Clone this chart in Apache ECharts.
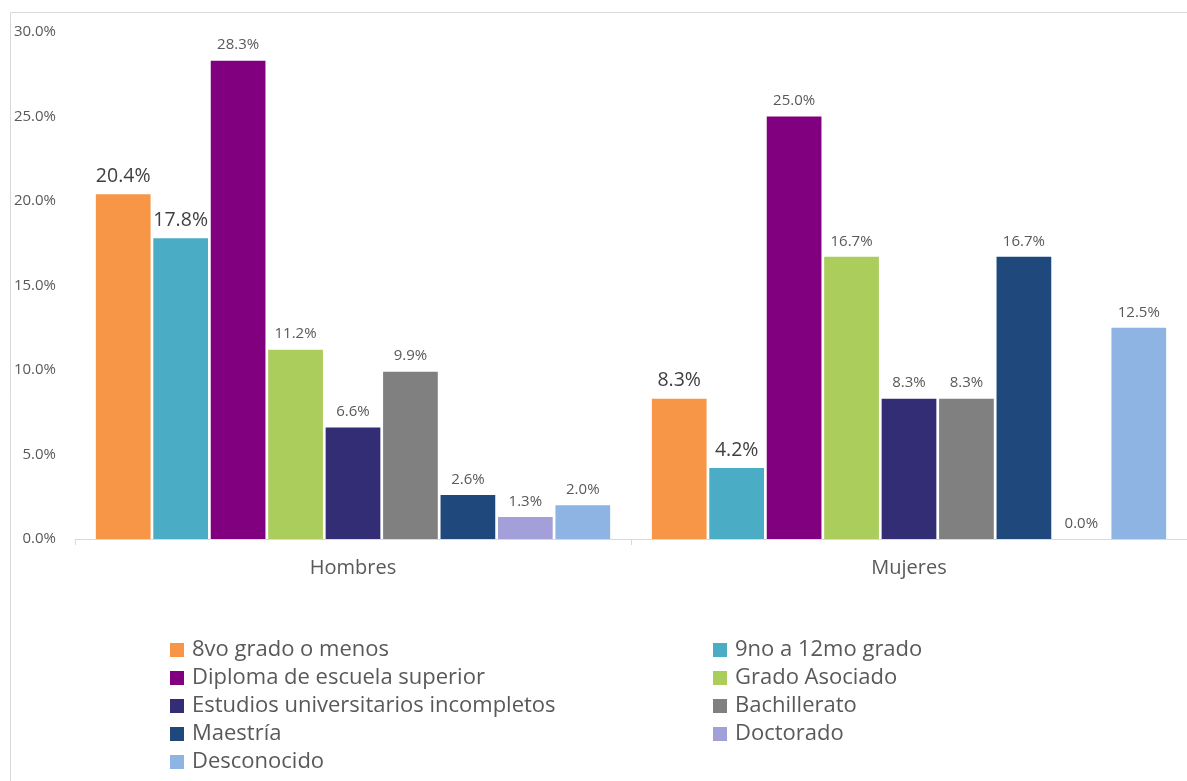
<!DOCTYPE html>
<html><head><meta charset="utf-8">
<script src="https://cdn.jsdelivr.net/npm/echarts@6/dist/echarts.min.js"></script>
<style>html,body{margin:0;padding:0;background:#fff}#c{width:1187px;height:781px}</style>
</head><body><div id="c"></div>
<script>
const categories = ['Hombres', 'Mujeres'];
const seriesNames = ['8vo grado o menos', '9no a 12mo grado', 'Diploma de escuela superior', 'Grado Asociado', 'Estudios universitarios incompletos', 'Bachillerato', 'Maestría', 'Doctorado', 'Desconocido'];
const octavo = [20.4, 8.3];
const noveno = [17.8, 4.2];
const diploma = [28.3, 25.0];
const asociado = [11.2, 16.7];
const estudios = [6.6, 8.3];
const bachillerato = [9.9, 8.3];
const maestria = [2.6, 16.7];
const doctorado = [1.3, 0.0];
const desconocido = [2.0, 12.5];
const values = [octavo, noveno, diploma, asociado, estudios, bachillerato, maestria, doctorado, desconocido];
const colors = ['#F79646', '#4BACC6', '#800080', '#ABCD5B', '#322D75', '#808080', '#1F497D', '#A29FD9', '#8EB4E3'];
const FONT = 'Open Sans';

const series = seriesNames.map((n, i) => ({
  name: n, type: 'bar', data: values[i],
  barGap: '5%', barCategoryGap: '7.5%',
  itemStyle: { color: colors[i] },
  label: {
    show: true, position: 'top', distance: 8,
    fontFamily: FONT, fontSize: i < 2 ? 19.5 : 15,
    color: i < 2 ? '#404040' : '#595959',
    formatter: p => p.value.toFixed(1) + '%'
  }
}));

const legendText = { fontFamily: FONT, fontSize: 22, lineHeight: 22, color: '#595959', padding: [0, 0, 0, 3] };
const chart = echarts.init(document.getElementById('c'));
chart.setOption({
  animation: false,
  color: colors,
  graphic: [{ type: 'rect', shape: { x: 10.5, y: 12.5, width: 1300, height: 900 }, style: { fill: 'none', stroke: '#D9D9D9', lineWidth: 1 } }],
  grid: { left: 75, right: -3, top: 32, bottom: 242, containLabel: false },
  xAxis: {
    type: 'category', data: categories,
    axisLine: { lineStyle: { color: '#D9D9D9', width: 1 } },
    axisTick: { show: true, length: 6, lineStyle: { color: '#D9D9D9' } },
    axisLabel: { fontFamily: FONT, fontSize: 20, color: '#595959', margin: 19 }
  },
  yAxis: {
    type: 'value', min: 0, max: 30, interval: 5,
    splitLine: { show: false }, axisLine: { show: false }, axisTick: { show: false },
    axisLabel: { fontFamily: FONT, fontSize: 15, color: '#595959', margin: 19, formatter: v => v.toFixed(1) + '%' }
  },
  legend: [
    { orient: 'vertical', left: 165, top: 634, itemWidth: 14, itemHeight: 14, itemGap: 6, icon: 'rect',
      data: [seriesNames[0], seriesNames[2], seriesNames[4], seriesNames[6], seriesNames[8]], textStyle: legendText },
    { orient: 'vertical', left: 708, top: 634, itemWidth: 14, itemHeight: 14, itemGap: 6, icon: 'rect',
      data: [seriesNames[1], seriesNames[3], seriesNames[5], seriesNames[7]], textStyle: legendText }
  ],
  series: series
});
</script></body></html>
